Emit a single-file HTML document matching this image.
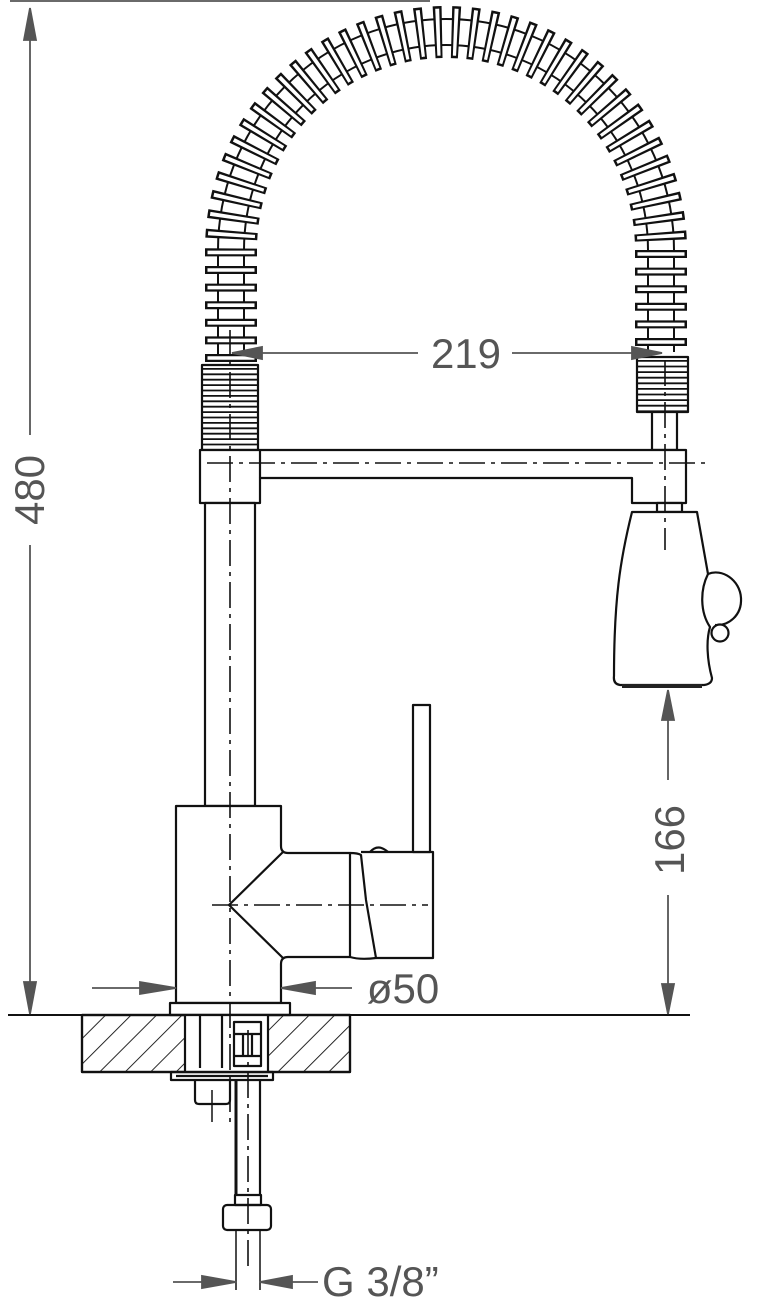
<!DOCTYPE html>
<html><head><meta charset="utf-8"><style>
html,body{margin:0;padding:0;background:#fff;}
svg{display:block;}
text{font-family:"Liberation Sans","DejaVu Sans",sans-serif;fill:#555;}
</style></head><body>
<svg width="782" height="1307" viewBox="0 0 782 1307" xmlns="http://www.w3.org/2000/svg">
<defs>
<pattern id="h" width="18" height="18" patternUnits="userSpaceOnUse" patternTransform="rotate(45)">
<line x1="0" y1="0" x2="0" y2="18" stroke="#111" stroke-width="1.8"/>
</pattern>
</defs>
<!-- hose tube -->
<path d="M231 362 V250 A215 218 0 0 1 661 250 V352" fill="none" stroke="#111" stroke-width="28"/>
<path d="M231 362 V250 A215 218 0 0 1 661 250 V352" fill="none" stroke="#fff" stroke-width="24"/>
<!-- coils -->
<path d="M231 362 V250 A215 218 0 0 1 661 250 V352" fill="none" stroke="#111" stroke-width="52" stroke-dasharray="8 9.6"/>
<path d="M231 362 V250 A215 218 0 0 1 661 250 V352" fill="none" stroke="#fff" stroke-width="47" stroke-dasharray="3.6 14" stroke-dashoffset="-2.2"/>
<g fill="none" stroke="#111" stroke-width="2.2" stroke-linejoin="round">
<!-- tight coils -->
<rect x="202" y="365" width="56" height="85" fill="#fff"/>
<line x1="230" y1="368" x2="230" y2="450" stroke-width="56" stroke-dasharray="1.8 3.6"/>
<rect x="637" y="357" width="51" height="55" fill="#fff"/>
<line x1="662.5" y1="360" x2="662.5" y2="412" stroke-width="51" stroke-dasharray="1.8 3.8"/>
<!-- right pipe -->
<rect x="652" y="412" width="25" height="38" fill="#fff"/>
<!-- spout -->
<path d="M200 450 H686 V503 H632 V478 H260 V503 H200 Z" fill="#fff"/>
<line x1="260" y1="450" x2="260" y2="478"/>
<rect x="657" y="503" width="25" height="9" fill="#fff"/>
<!-- spray head -->
<path d="M632 512 H697 L708 574 C700 590 700 612 710 627 C706 640 707 660 712 678 Q712 684 704 685 H620 Q613 684 614 676 C614 600 620 560 632 512 Z" fill="#fff"/>
<path d="M708 574 C722 568 740 580 741 598 C742 616 728 626 715 625" fill="none"/>
<circle cx="720" cy="633" r="8.5" fill="#fff"/>
<rect x="622" y="684" width="80" height="4" fill="#222" stroke="none"/>
<!-- column -->
<rect x="205" y="503" width="50" height="303" fill="#fff"/>
<!-- body -->
<path d="M176 806 H281 V846 Q281 853 288 853 H350 V957 H288 Q281 957 281 964 V1003 H176 Z" fill="#fff"/>
<path d="M283 852 L229 905 L283 958"/>
<path d="M350 853 Q358 853 361 855 L366 900 L376 958 Q360 960 350 957"/>
<path d="M361 852 H433 V958 H376"/>
<path d="M370 852 Q378 843 388 852"/>
<rect x="413" y="705" width="17" height="147" fill="#fff"/>
<rect x="170" y="1003" width="120" height="12" fill="#fff"/>
<!-- countertop -->
<rect x="82" y="1015" width="268" height="57" fill="url(#h)"/>
<rect x="185" y="1016" width="83" height="56" fill="#fff" stroke="none"/>
<rect x="82" y="1015" width="268" height="57"/>
<line x1="185" y1="1015" x2="185" y2="1072"/>
<line x1="268" y1="1015" x2="268" y2="1072"/>
<line x1="8" y1="1015" x2="690" y2="1015" stroke-width="2"/>
<line x1="200" y1="1015" x2="200" y2="1068"/>
<line x1="222" y1="1015" x2="222" y2="1068"/>
<rect x="234" y="1022" width="27" height="44"/>
<line x1="234" y1="1034" x2="261" y2="1034"/><line x1="234" y1="1056" x2="261" y2="1056"/>
<line x1="243" y1="1034" x2="243" y2="1056"/><line x1="252" y1="1034" x2="252" y2="1056"/>
<rect x="171" y="1072" width="102" height="8"/>
<line x1="176" y1="1076" x2="268" y2="1076"/>
<path d="M195 1080 V1100 Q195 1104 199 1104 H226 Q230 1104 230 1100 V1080"/>
<line x1="212" y1="1090" x2="212" y2="1122" stroke-width="1.5"/>
<line x1="236" y1="1080" x2="236" y2="1195" stroke-width="3"/>
<line x1="260" y1="1080" x2="260" y2="1195"/>
<rect x="235" y="1195" width="26" height="10"/>
<rect x="223" y="1205" width="48" height="25" rx="4"/>
<line x1="236" y1="1230" x2="236" y2="1290" stroke-width="1.5"/>
<line x1="260" y1="1230" x2="260" y2="1290" stroke-width="1.5"/>
</g>
<g stroke="#111" stroke-width="1.6" fill="none" stroke-dasharray="26 6 4 6">
<line x1="230" y1="330" x2="230" y2="1122"/>
<line x1="665" y1="360" x2="665" y2="550"/>
<line x1="207" y1="463" x2="706" y2="463"/>
<line x1="212" y1="905" x2="428" y2="905"/>
<line x1="248" y1="1030" x2="248" y2="1270"/>
</g>
<g stroke="#555" stroke-width="1.8" fill="#555">
<line x1="10" y1="1" x2="430" y2="1"/>
<line x1="30" y1="10" x2="30" y2="435"/>
<line x1="30" y1="545" x2="30" y2="1013"/>
<path d="M30 8 L24 40 L36 40 Z"/><path d="M30 1014 L24 982 L36 982 Z"/>
<line x1="232" y1="353" x2="418" y2="353"/>
<line x1="512" y1="353" x2="662" y2="353"/>
<path d="M232 353 L262 347 L262 359 Z"/><path d="M662 353 L632 347 L632 359 Z"/>
<line x1="668" y1="692" x2="668" y2="780"/>
<line x1="668" y1="895" x2="668" y2="1014"/>
<path d="M668 690 L662 720 L674 720 Z"/><path d="M668 1014 L662 984 L674 984 Z"/>
<line x1="92" y1="988" x2="176" y2="988"/>
<line x1="281" y1="988" x2="352" y2="988"/>
<path d="M176 988 L140 982 L140 994 Z"/><path d="M281 988 L315 982 L315 994 Z"/>
<line x1="173" y1="1282" x2="236" y2="1282"/>
<line x1="260" y1="1282" x2="318" y2="1282"/>
<path d="M236 1282 L202 1276 L202 1288 Z"/><path d="M260 1282 L292 1276 L292 1288 Z"/>
</g>
<g font-size="42">
<text x="466" y="368" text-anchor="middle">219</text>
<text x="403" y="1003" text-anchor="middle">ø50</text>
<text x="322" y="1296">G 3/8”</text>
<text transform="translate(44 490) rotate(-90)" text-anchor="middle">480</text>
<text transform="translate(684 840) rotate(-90)" text-anchor="middle">166</text>
</g>
</svg>
</body></html>
